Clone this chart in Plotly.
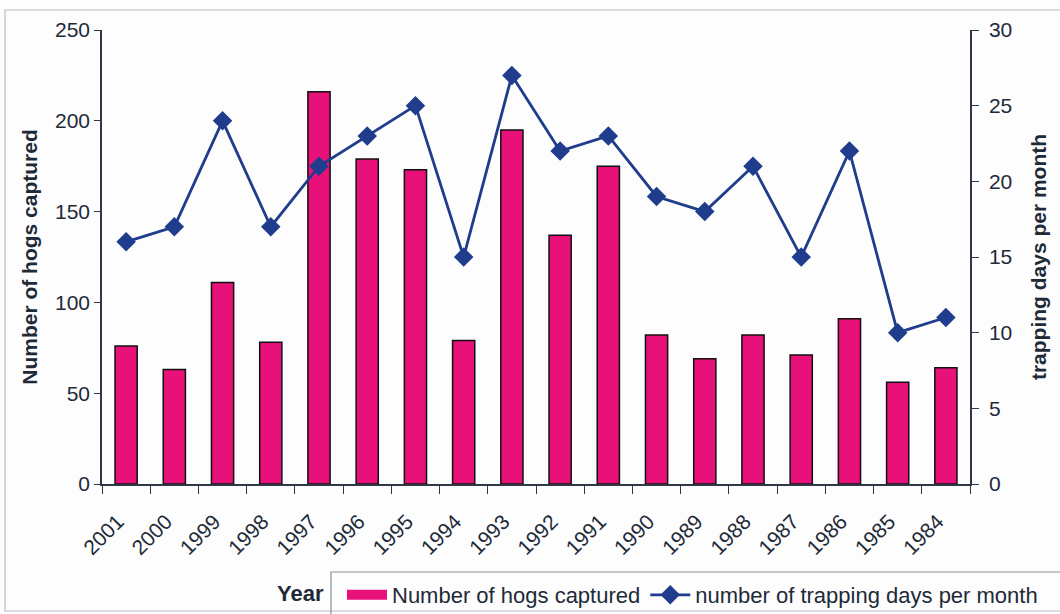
import plotly.graph_objects as go

years = ["2001", "2000", "1999", "1998", "1997", "1996", "1995", "1994", "1993",
         "1992", "1991", "1990", "1989", "1988", "1987", "1986", "1985", "1984"]
hogs_captured = [76, 63, 111, 78, 216, 179, 173, 79, 195,
                 137, 175, 82, 69, 82, 71, 91, 56, 64]
trapping_days = [16, 17, 24, 17, 21, 23, 25, 15, 27,
                 22, 23, 19, 18, 21, 15, 22, 10, 11]

FONT = "Liberation Sans, Arial, sans-serif"
TXT = "#1e2a38"
AX = "#2e3848"
PINK = "#E8117A"
NAVY = "#1F3D8C"

W, H = 1060, 614
L, R, T, B = 102, 90, 30, 130

def px2x(px):
    return (px - L) / (W - L - R)

def py2y(py):
    return (H - B - py) / (H - T - B)

fig = go.Figure()
fig.add_trace(go.Bar(
    x=years, y=hogs_captured, name="Number of hogs captured",
    marker=dict(color=PINK, line=dict(color="#111111", width=1.5)),
    width=0.46, yaxis="y", showlegend=False,
))
# legend swatch for the bars (wide rectangle like the original)
fig.add_trace(go.Scatter(
    x=[None], y=[None], name="Number of hogs captured",
    mode="lines", line=dict(color=PINK, width=15), yaxis="y",
))
fig.add_trace(go.Scatter(
    x=years, y=trapping_days, name="number of trapping days per month",
    mode="lines+markers", yaxis="y2",
    line=dict(color=NAVY, width=2.8),
    marker=dict(symbol="diamond", size=15, color=NAVY),
))

fig.update_layout(
    width=W, height=H,
    margin=dict(l=L, r=R, t=T, b=B, autoexpand=False),
    paper_bgcolor="#fdfdfd", plot_bgcolor="#fdfdfd",
    font=dict(family=FONT, color=TXT, size=21),
    showlegend=True,
    legend=dict(
        orientation="h", xref="container", yref="container",
        x=342 / W, y=(H - 574) / H, xanchor="left", yanchor="top",
        font=dict(size=22, color=TXT, family=FONT),
        bgcolor="rgba(0,0,0,0)", borderwidth=0,
        itemwidth=40, tracegroupgap=0,
    ),
    xaxis=dict(
        type="category", range=[-0.5, 17.5], tickangle=-45, tickson="boundaries",
        tickvals=years, ticktext=[y + "\u00a0\u00a0" for y in years],
        ticks="outside", ticklen=8, tickcolor=AX,
        showline=True, linecolor=AX, linewidth=1.5,
        showgrid=False, automargin=False, ticklabelstandoff=7,
        tickfont=dict(size=21, color=TXT),
    ),
    yaxis=dict(
        range=[0, 250], tickvals=[0, 50, 100, 150, 200, 250],
        ticks="outside", ticklen=6, tickcolor=AX,
        showline=True, linecolor=AX, linewidth=1.5,
        showgrid=False, zeroline=False, automargin=False,
        tickfont=dict(size=21, color=TXT),
        title=dict(text="<b>Number of hogs captured</b>",
                   font=dict(size=21, color=TXT), standoff=12),
    ),
    yaxis2=dict(
        range=[0, 30], tickvals=[0, 5, 10, 15, 20, 25, 30],
        overlaying="y", side="right",
        ticks="outside", ticklen=7, tickcolor=AX,
        showline=True, linecolor=AX, linewidth=1.5,
        showgrid=False, zeroline=False, automargin=False,
        ticklabelstandoff=6,
        tickfont=dict(size=21, color=TXT),
        title=dict(text="<b>trapping days per month</b>",
                   font=dict(size=21, color=TXT), standoff=20),
    ),
    annotations=[dict(
        text="<b>Year</b>", xref="paper", yref="paper",
        x=px2x(326), y=py2y(593), xanchor="right", yanchor="middle",
        showarrow=False, font=dict(size=22, color=TXT, family=FONT),
    )],
    shapes=[
        # outer chart frame
        dict(type="rect", xref="paper", yref="paper",
             x0=px2x(5), x1=px2x(1062), y0=py2y(611), y1=py2y(10),
             line=dict(color="#b8bcc4", width=1.2), layer="below"),
        # legend box
        dict(type="rect", xref="paper", yref="paper",
             x0=px2x(331), x1=px2x(1065), y0=py2y(620), y1=py2y(572),
             line=dict(color="#8a8f99", width=1.2), layer="below"),
    ],
)

fig.write_html("out.html", config={"displayModeBar": False},
               post_script="document.body.style.margin='0';document.body.style.overflow='hidden';")
